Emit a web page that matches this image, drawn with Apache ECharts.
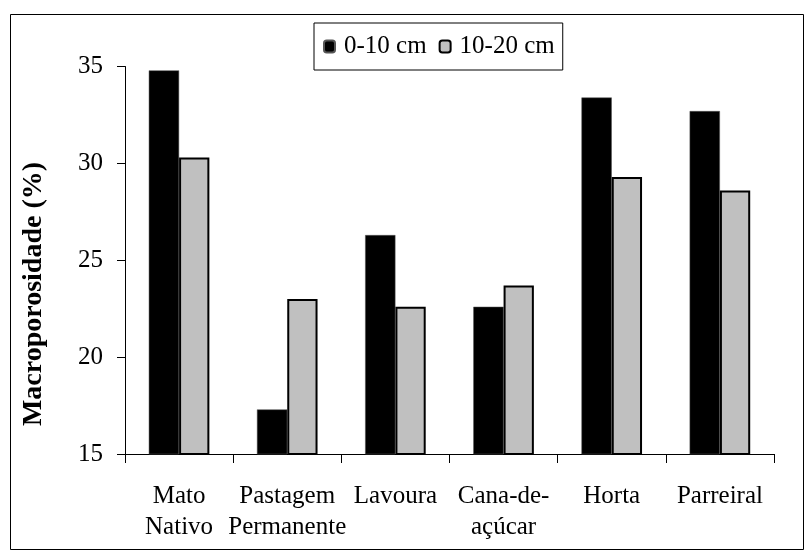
<!DOCTYPE html>
<html><head><meta charset="utf-8">
<script src="https://cdn.jsdelivr.net/npm/echarts@6/dist/echarts.min.js"></script>
<style>html,body{margin:0;padding:0;background:#fff}#c{width:806px;height:552px}</style>
</head><body>
<div id="c"></div>
<script>
const categories = ['Mato\nNativo', 'Pastagem\nPermanente', 'Lavoura', 'Cana-de-\naçúcar', 'Horta', 'Parreiral'];
const series0_10 = [34.8, 17.3, 26.3, 22.6, 33.4, 32.7];
const series10_20 = [30.3, 23.0, 22.6, 23.7, 29.3, 28.6];
const yTicks = [15, 20, 25, 30, 35];
const yTitle = 'Macroporosidade (%)';

const font = '"Liberation Serif", "Times New Roman", serif';
const chart = echarts.init(document.getElementById('c'));
chart.setOption({
  animation: false,
  backgroundColor: '#fff',
  graphic: [
    { type: 'rect', shape: { x: 10.5, y: 14.5, width: 793, height: 535 },
      style: { fill: null, stroke: '#000', lineWidth: 1 }, z: -1 },
    { type: 'text', x: 34, y: 294, rotation: Math.PI / 2,
      style: { text: yTitle, font: 'bold 28px ' + font, fill: '#000', align: 'center', verticalAlign: 'middle' } }
  ],
  legend: {
    top: 23, left: 314,
    itemWidth: 11, itemHeight: 12, itemGap: 12,
    borderColor: '#000', borderWidth: 1, padding: [11, 8, 11, 9],
    textStyle: { fontFamily: font, fontSize: 25, color: '#000', padding: [0, 0, 0, 4] },
    data: ['0-10 cm', '10-20 cm']
  },
  grid: { left: 125, right: 32, top: 66.5, bottom: 98 },
  xAxis: {
    type: 'category', data: categories,
    axisLine: { lineStyle: { color: '#000', width: 1 } },
    axisTick: { show: true, length: 9, lineStyle: { color: '#000' } },
    axisLabel: { color: '#000', fontFamily: font, fontSize: 25, margin: 27, lineHeight: 31, interval: 0 }
  },
  yAxis: {
    type: 'value', min: yTicks[0], max: yTicks[yTicks.length - 1], interval: 5,
    axisLine: { show: true, lineStyle: { color: '#000', width: 1 } },
    axisTick: { show: true, length: 8, lineStyle: { color: '#000' } },
    splitLine: { show: false },
    axisLabel: { color: '#000', fontFamily: font, fontSize: 25, margin: 22 }
  },
  series: [
    { name: '0-10 cm', type: 'bar', data: series0_10, barGap: '0%', barCategoryGap: '44%',
      itemStyle: { color: '#000', borderColor: '#555', borderWidth: 0.5 } },
    { name: '10-20 cm', type: 'bar', data: series10_20,
      itemStyle: { color: '#c0c0c0', borderColor: '#000', borderWidth: 2 } }
  ]
});
</script>
</body></html>
